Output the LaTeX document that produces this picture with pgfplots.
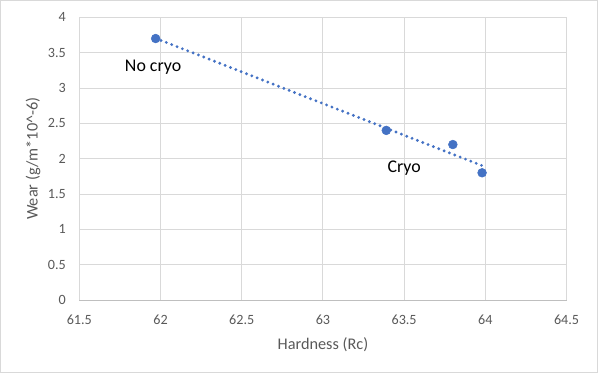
\documentclass[border=0pt]{standalone}
\usepackage{fontspec}
\setmainfont{Carlito}
\usepackage{pgfplots}
\pgfplotsset{compat=1.18}
\definecolor{tickgray}{HTML}{595959}
\definecolor{gridgray}{HTML}{D9D9D9}
\definecolor{axisgray}{HTML}{BFBFBF}
\definecolor{excelblue}{HTML}{4472C4}
\begin{document}
\begin{tikzpicture}
\path[use as bounding box] (0pt,0pt) rectangle (450pt,282pt);
\draw[color=gridgray, line width=0.75pt] (0.5pt,2.5pt) rectangle (447.8pt,281.5pt);
\begin{axis}[
  at={(59.5pt,57pt)}, anchor=south west,
  width=365.4pt, height=212pt, scale only axis,
  xmin=61.5, xmax=64.5, ymin=0, ymax=4,
  xtick={61.5,62,62.5,63,63.5,64,64.5},
  ytick={0,0.5,1,1.5,2,2.5,3,3.5,4},
  xticklabels={61.5,62,62.5,63,63.5,64,64.5},
  yticklabels={0,0.5,1,1.5,2,2.5,3,3.5,4},
  major tick length=0pt,
  grid=major,
  major grid style={color=gridgray, line width=0.75pt},
  axis x line*=bottom, axis y line*=left,
  x axis line style={color=axisgray, line width=0.75pt, -},
  y axis line style={draw=none},
  tick label style={font=\fontsize{10.6}{12}\selectfont, color=tickgray},
  xticklabel style={anchor=center, yshift=-15pt},
  yticklabel style={anchor=east, xshift=-6.6pt},
  xlabel={Hardness (Rc)},
  ylabel={Wear (g/m*10\textasciicircum-6)},
  label style={font=\fontsize{12.2}{14}\selectfont, color=tickgray},
  xlabel style={at={(axis description cs:0.5,-0.159)}, anchor=center},
  ylabel style={at={(axis description cs:-0.095,0.5)}, anchor=center},
  clip=false,
]
\addplot[excelblue, line width=2.4pt, dash pattern=on 0pt off 4.3pt, line cap=round] coordinates {(61.97,3.703) (63.98,1.902)};
\addplot[only marks, mark=*, mark size=3.3pt, color=excelblue] coordinates {
  (61.97,3.7) (63.39,2.4) (63.80,2.2) (63.98,1.8)
};
\node[font=\fontsize{13.4}{15}\selectfont, text=black] at (axis cs:61.954,3.29) {No cryo};
\node[font=\fontsize{13.4}{15}\selectfont, text=black] at (axis cs:63.50,1.87) {Cryo};
\end{axis}
\end{tikzpicture}
\end{document}
